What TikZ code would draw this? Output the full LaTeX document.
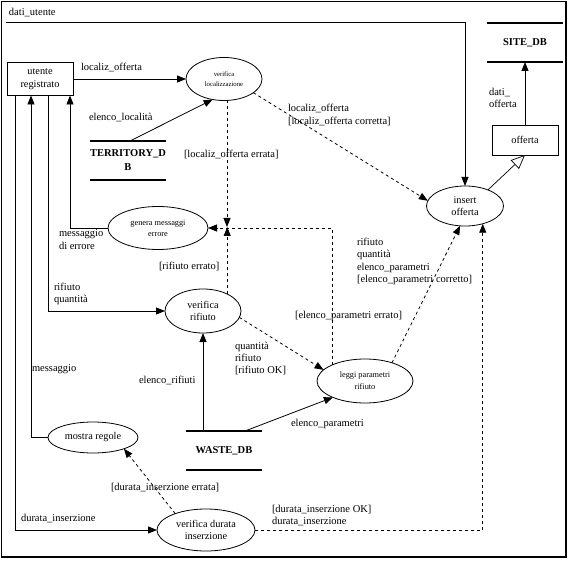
\documentclass[tikz,border=0pt]{standalone}
\usepackage{fontspec}
\setmainfont{Liberation Serif}
\usetikzlibrary{arrows.meta,shapes.geometric,calc}
\begin{document}
\begin{tikzpicture}[x=1pt,y=-1pt,
 every node/.style={inner sep=0pt, outer sep=0pt},
 lbl/.style={anchor=west, align=left, font=\fontsize{10.5}{12.3}\selectfont},
 proc/.style={ellipse, draw, line width=0.8pt, align=center, font=\fontsize{10.3}{12}\selectfont},
 ent/.style={rectangle, draw, line width=0.8pt, align=center, font=\fontsize{10.3}{13}\selectfont},
 store/.style={align=center, minimum width=76pt, minimum height=39pt, font=\bfseries\fontsize{10.5}{14}\selectfont},
 dbline/.style={line width=2.2pt},
 flow/.style={draw, line width=0.8pt, -{Triangle[length=9pt,width=7pt]}},
 dflow/.style={flow, dash pattern=on 3pt off 3pt},
 gen/.style={draw, line width=0.7pt, -{Triangle[open,length=14pt,width=12pt,fill=white]}}
]
\useasboundingbox (0,0) rectangle (570,561);
% frame
\draw[line width=0.8pt] (1,557) |- (566,1);
\draw[line width=2.5pt] (566,1) |- (1,557);

% nodes
\node[ent, minimum width=66pt, minimum height=33pt] (utente) at (40,79) {utente\\registrato};
\node[proc, minimum width=76pt, minimum height=43pt, font=\fontsize{6.7}{10}\selectfont] (vl) at (224,79) {verifica\\localizzazione};
\node[store] (terr) at (128,160.5) {TERRITORY\_D\\B};
\node[proc, minimum width=100pt, minimum height=43pt, font=\fontsize{8.3}{11}\selectfont] (gme) at (158,228) {genera messaggi\\errore};
\node[proc, minimum width=76pt, minimum height=44pt] (vr) at (203,311) {verifica\\rifiuto};
\node[proc, minimum width=96pt, minimum height=44pt, font=\fontsize{8.3}{12}\selectfont] (lpr) at (365,381) {leggi parametri\\rifiuto};
\node[store] (waste) at (224,450.5) {WASTE\_DB};
\node[proc, minimum width=90pt, minimum height=31pt] (mr) at (93,437.5) {mostra regole};
\node[proc, minimum width=98pt, minimum height=42pt] (vdi) at (206,530) {verifica durata\\inserzione};
\node[proc, minimum width=77pt, minimum height=40pt] (io) at (465,206) {insert\\offerta};
\node[ent, minimum width=66pt, minimum height=30pt] (off) at (525,140) {offerta};
\node[store] (site) at (525,42.5) {SITE\_DB};

\foreach \s in {terr,waste,site}{
  \draw[dbline] (\s.north west) -- (\s.north east) (\s.south west) -- (\s.south east);
}

\coordinate (du) at (6,22);
\coordinate (J) at (227,227);

% connectors
\draw[flow] (du) -| (io.north);
\draw[flow] (utente.east) -- (vl.west);
\draw[flow] ([xshift=2pt]terr.north) -- (vl.241);
\draw[dflow] (vl.-25) -- (io.172);
\draw[dflow] (vl.south -| J) -- (J);
\draw[dflow] (vr.35) -- (vr.35 |- J);
\draw[dflow] (lpr.154) |- (gme.east);
\draw[flow] (gme.west) -| ([xshift=30pt]utente.south);
\draw[flow] ([xshift=8pt]utente.south) |- (vr.west);
\draw[flow] (vr.south |- waste.north) -- (vr.south);
\draw[dflow] (vr.-10) -- (lpr.165);
\draw[flow] ([xshift=21pt]waste.north) -- (lpr.207);
\draw[dflow] (lpr.34) -- (io.256);
\draw[dflow] (vdi.east) -| (io.-45);
\draw[flow] ([xshift=-25pt]utente.south) |- (vdi.west);
\draw[flow] (mr.west) -| ([xshift=-9pt]utente.south);
\draw[dflow] (vdi.152) -- (mr.-20);
\draw[gen] (io.35) -- (off.south);
\draw[flow] (off.north) -- (site.south);

% labels
\node[lbl] (l1) at (9,13) {dati\_utente};
\node[lbl] (l2) at (81,67) {localiz\_offerta};
\node[lbl] (l3) at (89,118) {elenco\_località};
\node[lbl] (l4) at (184,155) {[localiz\_offerta errata]};
\node[lbl] (l5) at (288,115) {localiz\_offerta\\{}[localiz\_offerta corretta]};
\node[lbl] (l6) at (59,239.5) {messaggio\\di errore};
\node[lbl] (l7) at (159,267) {[rifiuto errato]};
\node[lbl] (l8) at (54,294) {rifiuto\\quantità};
\node[lbl] (l9) at (32,369) {messaggio};
\node[lbl] (l10) at (139,380) {elenco\_rifiuti};
\node[lbl] (l11) at (235,358.5) {quantità\\rifiuto\\{}[rifiuto OK]};
\node[lbl] (l12) at (295,316) {[elenco\_parametri errato]};
\node[lbl] (l13) at (357,261.5) {rifiuto\\quantità\\elenco\_parametri\\{}[elenco\_parametri corretto]};
\node[lbl] (l14) at (291,424) {elenco\_parametri};
\node[lbl] (l15) at (111,488) {[durata\_inserzione errata]};
\node[lbl] (l16) at (21,519) {durata\_inserzione};
\node[lbl] (l17) at (272,515.5) {[durata\_inserzione OK]\\durata\_inserzione};
\node[lbl] (l18) at (489,98) {dati\_\\offerta};
\end{tikzpicture}
\end{document}
